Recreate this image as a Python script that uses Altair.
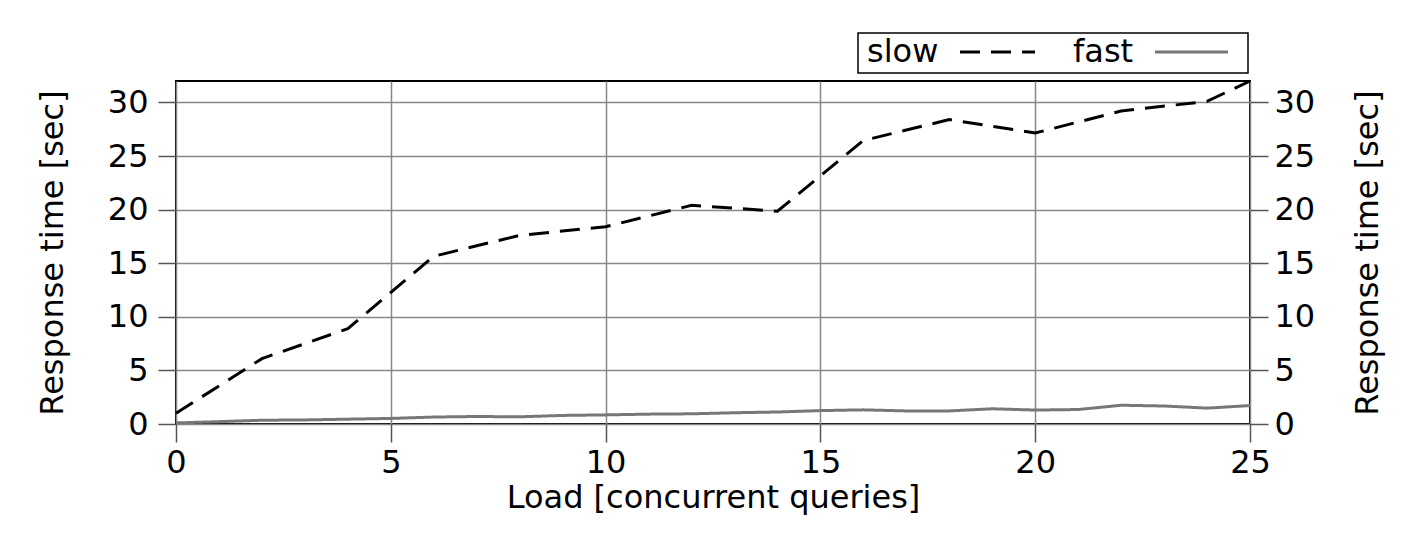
import altair as alt
import pandas as pd

# ---- data ----
series_names = ["slow", "fast"]

slow_x = [0, 2, 4, 6, 8, 10, 12, 14, 16, 18, 20, 22, 24, 25]
slow_y = [1.0, 6.1, 8.9, 15.65, 17.6, 18.4, 20.4, 19.85, 26.45, 28.4, 27.15, 29.2, 30.1, 32.0]

fast_x = list(range(0, 26))
fast_y = [0.1, 0.22, 0.35, 0.38, 0.45, 0.52, 0.65, 0.7, 0.67, 0.8, 0.85, 0.92, 0.95,
          1.05, 1.12, 1.25, 1.32, 1.22, 1.22, 1.42, 1.3, 1.35, 1.75, 1.68, 1.48, 1.72]

x_ticks = [0, 5, 10, 15, 20, 25]
y_ticks = [0, 5, 10, 15, 20, 25, 30]

x_title = "Load [concurrent queries]"
y_title = "Response time [sec]"

df = pd.concat([
    pd.DataFrame({"load": slow_x, "time": slow_y, "series": "slow"}),
    pd.DataFrame({"load": fast_x, "time": fast_y, "series": "fast"}),
])

FONT = "DejaVu Sans"
FS = 32
W, H = 1074, 343

xscale = alt.Scale(domain=[0, 25], nice=False, zero=False)
yscale = alt.Scale(domain=[0, 32], nice=False)

color = alt.Color("series:N", scale=alt.Scale(domain=series_names, range=["#000000", "#777777"]), legend=None)
dash = alt.StrokeDash("series:N", scale=alt.Scale(domain=series_names, range=[[20, 11], [1, 0]]), legend=None)

x_enc = alt.X("load:Q", scale=xscale, title=x_title,
              axis=alt.Axis(values=x_ticks, grid=True, labelPadding=5, titlePadding=4, labelFlush=False))

lines = alt.Chart(df).mark_line(strokeWidth=3).encode(
    x=x_enc,
    y=alt.Y("time:Q", scale=yscale, title=y_title,
            axis=alt.Axis(values=y_ticks, grid=True, orient="left", labelPadding=10, titlePadding=38,
                          labelFlush=False)),
    color=color,
    strokeDash=dash,
    detail="series:N",
)

right = alt.Chart(df).mark_line(opacity=0).encode(
    x=x_enc,
    y=alt.Y("time:Q", scale=yscale, title=y_title,
            axis=alt.Axis(values=y_ticks, grid=False, orient="right", labelPadding=6,
                          titlePadding=38, titleAngle=270, titleBaseline="top", labelFlush=False)),
    detail="series:N",
)

# ---- custom legend box (label before sample, as in reference) ----
leg_df = pd.DataFrame({"name": series_names})
box = alt.Chart(leg_df.head(1)).mark_rect(fill="white", stroke="black", strokeWidth=1.5).encode(
    x=alt.value(682), x2=alt.value(1072), y=alt.value(-48), y2=alt.value(-8))
t_slow = alt.Chart(leg_df.head(1)).mark_text(align="left", baseline="alphabetic", fontSize=FS, font=FONT,
                                             color="black").encode(
    x=alt.value(691), y=alt.value(-19), text=alt.value(series_names[0]))
t_fast = alt.Chart(leg_df.head(1)).mark_text(align="left", baseline="alphabetic", fontSize=FS, font=FONT,
                                             color="black").encode(
    x=alt.value(897), y=alt.value(-19), text=alt.value(series_names[1]))
r_slow = alt.Chart(leg_df.head(1)).mark_rule(color="black", strokeWidth=3, strokeDash=[20, 11]).encode(
    x=alt.value(784), x2=alt.value(859), y=alt.value(-29))
r_fast = alt.Chart(leg_df.head(1)).mark_rule(color="#777777", strokeWidth=3).encode(
    x=alt.value(979), x2=alt.value(1052), y=alt.value(-29))

chart = alt.layer(lines, right, box, t_slow, t_fast, r_slow, r_fast).resolve_scale(
    y="independent"
).properties(
    width=W, height=H,
    padding={"left": 168, "top": 73, "right": 158, "bottom": 109},
    autosize=alt.AutoSizeParams(type="none"),
).configure(
    font=FONT,
).configure_view(
    stroke="black", strokeWidth=2,
).configure_axis(
    domain=False,
    labelFont=FONT, titleFont=FONT,
    labelFontSize=FS, titleFontSize=FS,
    labelColor="black", titleColor="black",
    titleFontWeight="normal",
    tickSize=18, tickColor="#555555", tickWidth=1.5,
    gridColor="#888888", gridWidth=1.5, gridOpacity=1,
)

chart.save("out.html", embed_options={"renderer": "svg", "actions": False})
